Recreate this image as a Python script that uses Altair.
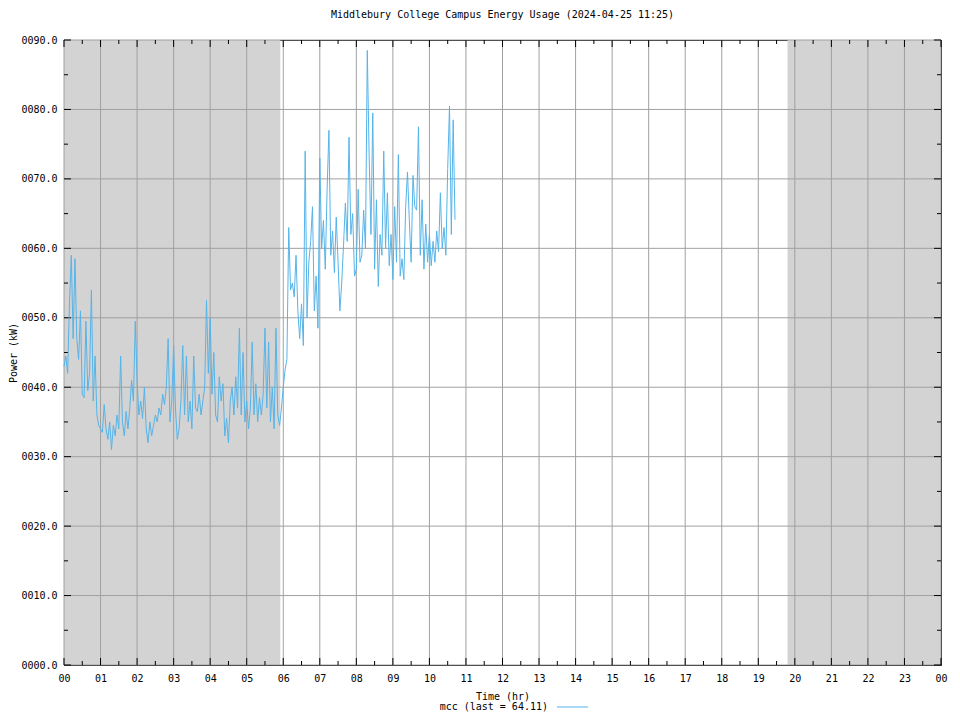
import altair as alt
import pandas as pd

# ---- data (3-minute samples, kW) ----
kw_h00 = [43, 44.5, 42, 52, 59, 47, 58.5, 47, 44, 51, 39, 38.5, 49.5, 39.5, 42, 54, 38, 44.5, 36, 34.5]
kw_h01 = [34, 33.5, 37.5, 34, 32.5, 35, 31, 34.5, 33, 36, 34, 44.5, 35, 33, 36.5, 34, 37, 41, 38, 49.5]
kw_h02 = [41, 36, 38, 35.5, 40, 34, 32, 35, 33, 34.5, 36, 35, 37, 36, 39, 37.5, 40, 47, 35, 38]
kw_h03 = [46, 37, 32.5, 34, 38, 46, 36, 44.5, 35, 38, 34, 44.5, 37, 36.5, 39, 36, 38, 40, 52.5, 42]
kw_h04 = [50, 39, 45, 36, 35, 41.5, 38, 40.5, 33, 35.5, 32, 38, 40, 36, 41.5, 37, 48.5, 36, 45, 35]
kw_h05 = [38, 34, 37, 46.5, 36, 40.5, 35, 38.5, 36, 39, 48.5, 37, 46.5, 35, 40, 34, 48.5, 36, 34.5, 37]
kw_h06 = [40, 42.5, 44, 63, 54, 55, 53, 59, 51, 47, 52, 46, 74, 50, 58, 61, 66, 51, 56, 48.5]
kw_h07 = [73, 60, 64, 57, 68.5, 77, 59, 62.5, 56.5, 64.5, 58, 51, 55, 60.5, 66.5, 61, 76, 62, 65, 56]
kw_h08 = [57, 68.5, 58, 59, 65.5, 60, 88.5, 73.5, 62, 79.5, 57, 67, 54.5, 62, 59, 74, 60, 68, 57.5, 62]
kw_h09 = [55.5, 66, 58, 73.5, 56, 58.5, 55.5, 66, 71, 64, 58, 70.5, 66, 65.5, 77.5, 59, 67, 57, 63.5, 58]
kw_h10 = [62, 57.5, 61, 58, 62.5, 59.5, 68, 60, 63, 59, 71.5, 80.5, 62, 78.5, 64.11]

sample_minutes = 3
night_start = [0, 19.8]
night_end = [5.92, 24]
hour_ticks = list(range(25))
half_hour_ticks = [h + 0.5 for h in range(24)]
kw_major = list(range(0, 100, 10))
kw_minor = list(range(5, 90, 10))

power = kw_h00 + kw_h01 + kw_h02 + kw_h03 + kw_h04 + kw_h05 + kw_h06 + kw_h07 + kw_h08 + kw_h09 + kw_h10
times = [i * sample_minutes / 60 for i in range(len(power))]
series = pd.DataFrame({"t": times, "kw": power})
night = pd.DataFrame({"start": night_start, "end": night_end})
hours_df = pd.DataFrame({"t": hour_ticks})
half_df = pd.DataFrame({"t": half_hour_ticks})
kwmaj_df = pd.DataFrame({"kw": kw_major})
kwmin_df = pd.DataFrame({"kw": kw_minor})
legend_df = pd.DataFrame({"label": [f"mcc (last = {power[-1]:.2f})"]})

W, H = 877, 625
FONT = "DejaVu Sans Mono"
GRID = "#a0a0a0"
LINE = "#56b4e9"

font_kw = dict(labelFont=FONT, labelFontSize=10, labelColor="black",
               titleFont=FONT, titleFontSize=10, titleFontWeight="normal", titleColor="black")

xs = alt.Scale(domain=[0, 24], nice=False)
ys = alt.Scale(domain=[0, 90], nice=False, zero=True)
xaxis = alt.Axis(values=hour_ticks, grid=False, ticks=False, tickSize=0, domain=False,
                 labelExpr="datum.value == 24 ? '00' : format(datum.value, '02d')",
                 labelPadding=8, titlePadding=8, labelFlush=False, **font_kw)
yaxis = alt.Axis(values=kw_major, grid=False, ticks=False, tickSize=0, domain=False,
                 format="06.1f", labelPadding=7, titlePadding=2, **font_kw)

def X(field):
    return alt.X(field, scale=xs, axis=xaxis, title="Time (hr)")

def Y(field):
    return alt.Y(field, scale=ys, axis=yaxis, title="Power (kW)")

shade = alt.Chart(night).mark_rect(color="#d3d3d3").encode(x=X("start:Q"), x2="end:Q")

vgrid = alt.Chart(hours_df).mark_rule(color=GRID, strokeWidth=1).encode(x=X("t:Q"))
hgrid = alt.Chart(kwmaj_df).mark_rule(color=GRID, strokeWidth=1).encode(y=Y("kw:Q"))

def xticks(df, length):
    bot = alt.Chart(df).mark_rule(color="black").encode(
        x=X("t:Q"), y=alt.value(H), y2=alt.value(H - length))
    top = alt.Chart(df).mark_rule(color="black").encode(
        x=X("t:Q"), y=alt.value(0), y2=alt.value(length))
    return [bot, top]

def yticks(df, length):
    left = alt.Chart(df).mark_rule(color="black").encode(
        y=Y("kw:Q"), x=alt.value(0), x2=alt.value(length))
    right = alt.Chart(df).mark_rule(color="black").encode(
        y=Y("kw:Q"), x=alt.value(W), x2=alt.value(W - length))
    return [left, right]

line = alt.Chart(series).mark_line(color=LINE, strokeWidth=1).encode(x=X("t:Q"), y=Y("kw:Q"))

legend_text = alt.Chart(legend_df).mark_text(
    align="right", baseline="middle", font=FONT, fontSize=10, color="black").encode(
    x=alt.value(484), y=alt.value(667), text="label:N")
legend_line = alt.Chart(legend_df).mark_rule(color=LINE, strokeWidth=1).encode(
    x=alt.value(493), x2=alt.value(524), y=alt.value(667))

layers = [shade, vgrid, hgrid] + xticks(hours_df, 7) + xticks(half_df, 4) \
    + yticks(kwmaj_df, 7) + yticks(kwmin_df, 4) + [line, legend_text, legend_line]

chart = alt.layer(*layers).properties(
    width=W, height=H,
    background="white",
    title=alt.TitleParams("Middlebury College Campus Energy Usage (2024-04-25 11:25)",
                          font=FONT, fontSize=10, fontWeight="normal", anchor="middle", offset=15),
    autosize=alt.AutoSizeParams(type="none"),
    padding={"left": 56, "top": 32, "right": 11, "bottom": 47},
).configure_view(stroke="black", strokeWidth=1)

chart.save("out.html", embed_options={"renderer": "svg", "actions": False})
